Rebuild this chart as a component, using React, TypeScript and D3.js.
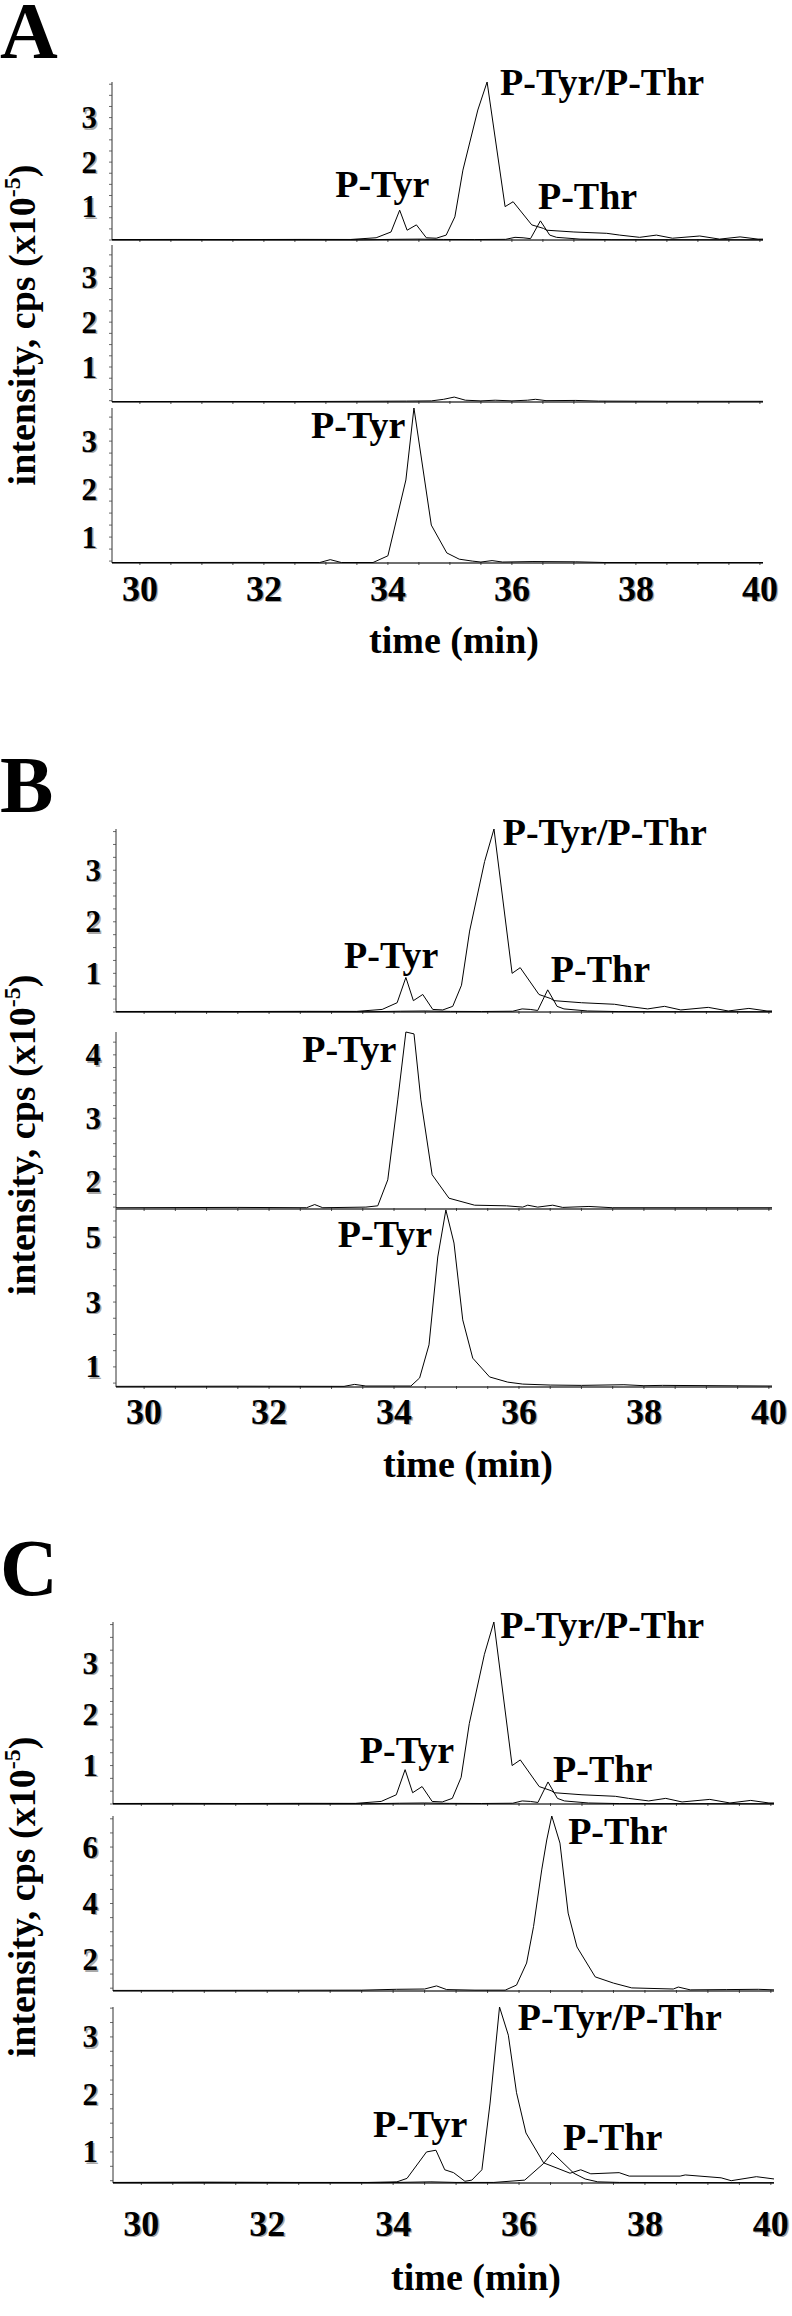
import React from 'react';
import * as d3 from 'd3';

type Pt = [number, number];
type Lbl = { text: string; t: number; v: number };

// time axis (min)
const timeDomain = [29.55, 40.05];
const timeTicks = [30, 32, 34, 36, 38, 40];

// standard mix (top strip of every panel), intensity in 1e5 cps
const mixTyr: Pt[] = [
  [29.55, 0.26], [30.6, 0.262], [31.6, 0.26], [32.6, 0.263], [33.4, 0.262], [33.81, 0.3],
  [34.05, 0.43], [34.19, 0.92], [34.31, 0.47], [34.46, 0.59], [34.62, 0.3], [34.78, 0.29],
  [34.94, 0.36], [35.08, 0.77], [35.21, 1.82], [35.45, 3.17], [35.6, 3.8], [35.89, 1.0],
  [36.02, 1.11], [36.32, 0.59], [36.51, 0.51], [36.56, 0.47], [37.0, 0.43], [37.53, 0.4],
  [37.74, 0.36], [38.06, 0.31], [38.33, 0.36], [38.59, 0.29], [39.03, 0.34], [39.35, 0.27],
  [39.68, 0.32], [39.97, 0.27], [40.05, 0.27],
];
const mixThr: Pt[] = [
  [29.55, 0.255], [33.6, 0.255], [34.1, 0.265], [34.5, 0.27], [34.9, 0.262], [35.4, 0.26],
  [35.9, 0.265], [36.05, 0.31], [36.18, 0.3], [36.3, 0.28], [36.46, 0.68], [36.61, 0.36],
  [36.72, 0.31], [37.1, 0.27], [37.6, 0.258], [40.05, 0.255],
];

const aMidTrace: Pt[] = [
  [29.55, 0.23], [31.0, 0.232], [32.5, 0.23], [33.5, 0.235], [34.3, 0.24], [34.7, 0.245],
  [34.9, 0.28], [35.07, 0.33], [35.25, 0.26], [35.5, 0.245], [35.73, 0.26], [36.0, 0.245],
  [36.25, 0.26], [36.38, 0.28], [36.55, 0.25], [37.03, 0.255], [37.4, 0.24], [38.5, 0.235],
  [40.05, 0.235],
];
const aBotTrace: Pt[] = [
  [29.55, 0.47], [31.5, 0.472], [32.9, 0.47], [33.07, 0.53], [33.25, 0.47], [33.76, 0.47],
  [34.0, 0.61], [34.29, 2.19], [34.42, 3.69], [34.7, 1.25], [34.95, 0.67], [35.15, 0.54],
  [35.36, 0.5], [35.5, 0.48], [35.68, 0.51], [35.85, 0.48], [36.34, 0.49], [37.03, 0.485],
  [37.5, 0.47], [40.05, 0.47],
];
const bMidTrace: Pt[] = [
  [29.55, 1.59], [31.5, 1.595], [32.6, 1.59], [32.73, 1.64], [32.86, 1.59], [33.55, 1.6],
  [33.74, 1.62], [33.9, 2.03], [34.06, 3.29], [34.19, 4.36], [34.32, 4.33], [34.43, 3.29],
  [34.61, 2.11], [34.88, 1.74], [35.29, 1.63], [35.8, 1.62], [36.06, 1.6], [36.14, 1.63],
  [36.3, 1.6], [36.54, 1.63], [36.7, 1.595], [37.12, 1.61], [37.5, 1.59], [40.05, 1.59],
];
const bBotTrace: Pt[] = [
  [29.55, 0.4], [31.5, 0.405], [33.2, 0.4], [33.37, 0.46], [33.55, 0.41], [34.27, 0.41],
  [34.41, 0.66], [34.56, 1.68], [34.7, 4.39], [34.83, 5.84], [34.96, 4.82], [35.1, 2.45],
  [35.26, 1.27], [35.53, 0.69], [35.82, 0.53], [36.06, 0.47], [36.5, 0.44], [37.0, 0.43],
  [37.68, 0.45], [38.0, 0.42], [38.3, 0.43], [40.05, 0.41],
];
const cMidTrace: Pt[] = [
  [29.55, 0.92], [32.0, 0.925], [33.5, 0.93], [34.05, 0.96], [34.5, 0.97], [34.69, 1.08],
  [34.85, 0.95], [35.3, 0.93], [35.78, 0.93], [35.96, 1.11], [36.12, 1.89], [36.23, 3.18],
  [36.36, 5.19], [36.44, 6.25], [36.52, 7.1], [36.65, 6.14], [36.78, 3.66], [36.92, 2.46],
  [37.21, 1.4], [37.5, 1.18], [37.79, 1.01], [38.45, 0.97], [38.53, 1.04], [38.72, 0.94],
  [39.3, 0.95], [39.8, 0.96], [40.05, 0.94],
];
const cBotTyr: Pt[] = [
  [29.55, 0.47], [31.0, 0.475], [32.5, 0.47], [33.6, 0.47], [34.06, 0.48], [34.22, 0.54],
  [34.53, 1.0], [34.68, 1.03], [34.82, 0.69], [34.96, 0.64], [35.14, 0.49], [35.25, 0.51],
  [35.41, 0.69], [35.54, 1.85], [35.69, 3.52], [35.83, 3.03], [35.96, 2.03], [36.11, 1.33],
  [36.39, 0.81], [36.81, 0.63], [36.98, 0.69], [37.14, 0.62], [37.59, 0.64], [37.75, 0.58],
  [38.56, 0.58], [38.64, 0.6], [39.21, 0.55], [39.37, 0.5], [39.77, 0.57], [40.05, 0.53],
];
const cBotThr: Pt[] = [
  [29.55, 0.465], [33.8, 0.465], [34.6, 0.48], [35.0, 0.47], [35.6, 0.47], [36.09, 0.51],
  [36.39, 0.8], [36.53, 0.99], [36.87, 0.63], [37.05, 0.53], [37.25, 0.48], [37.6, 0.47],
  [40.05, 0.465],
];

// y ranges and tick labels of each strip
const mixY = [0.25, 3.8];
const aMidY = [0.22, 3.72];
const aBotY = [0.46, 3.69];
const bMidY = [1.57, 4.36];
const bBotY = [0.38, 5.87];
const cMidY = [0.9, 7.1];
const cBotY = [0.46, 3.52];
const ticks123 = [1, 2, 3];
const ticks234 = [2, 3, 4];
const ticks135 = [1, 3, 5];
const ticks246 = [2, 4, 6];

// peak labels (left edge time, baseline intensity)
const aTopLabels: Lbl[] = [
  { text: 'P-Tyr', t: 33.15, v: 1.22 },
  { text: 'P-Tyr/P-Thr', t: 35.81, v: 3.51 },
  { text: 'P-Thr', t: 36.42, v: 0.95 },
];
const aBotLabels: Lbl[] = [{ text: 'P-Tyr', t: 32.76, v: 3.06 }];
const bTopLabels: Lbl[] = [
  { text: 'P-Tyr', t: 33.2, v: 1.1 },
  { text: 'P-Tyr/P-Thr', t: 35.74, v: 3.49 },
  { text: 'P-Thr', t: 36.51, v: 0.83 },
];
const bMidLabels: Lbl[] = [{ text: 'P-Tyr', t: 32.53, v: 3.89 }];
const bBotLabels: Lbl[] = [{ text: 'P-Tyr', t: 33.1, v: 4.7 }];
const cTopLabels: Lbl[] = [
  { text: 'P-Tyr', t: 33.47, v: 1.05 },
  { text: 'P-Tyr/P-Thr', t: 35.7, v: 3.49 },
  { text: 'P-Thr', t: 36.54, v: 0.68 },
];
const cMidLabels: Lbl[] = [{ text: 'P-Thr', t: 36.78, v: 6.11 }];
const cBotLabels: Lbl[] = [
  { text: 'P-Tyr', t: 33.68, v: 1.26 },
  { text: 'P-Tyr/P-Thr', t: 35.98, v: 3.12 },
  { text: 'P-Thr', t: 36.7, v: 1.03 },
];

type Strip = { top: number; base: number; domain: number[]; ticks: number[]; minor: number; series: Pt[][]; labels: Lbl[] };
type Panel = { letter: string; letterY: number; x0: number; x1: number; tickY: number; titleX: number; titleY: number; yTitleY: number; strips: Strip[] };

const panels: Panel[] = [
  {
    letter: 'A', letterY: 58, x0: 112, x1: 763, tickY: 601, titleX: 454, titleY: 653, yTitleY: 325,
    strips: [
      { top: 82, base: 240, domain: mixY, ticks: ticks123, minor: 0.25, series: [mixTyr, mixThr], labels: aTopLabels },
      { top: 245, base: 402, domain: aMidY, ticks: ticks123, minor: 0.25, series: [aMidTrace], labels: [] },
      { top: 408, base: 563, domain: aBotY, ticks: ticks123, minor: 0.25, series: [aBotTrace], labels: aBotLabels },
    ],
  },
  {
    letter: 'B', letterY: 812, x0: 116, x1: 772, tickY: 1424, titleX: 468, titleY: 1477, yTitleY: 1135,
    strips: [
      { top: 829, base: 1012, domain: mixY, ticks: ticks123, minor: 0.25, series: [mixTyr, mixThr], labels: bTopLabels },
      { top: 1032, base: 1209, domain: bMidY, ticks: ticks234, minor: 0.2, series: [bMidTrace], labels: bMidLabels },
      { top: 1209, base: 1387, domain: bBotY, ticks: ticks135, minor: 0.5, series: [bBotTrace], labels: bBotLabels },
    ],
  },
  {
    letter: 'C', letterY: 1595, x0: 113, x1: 774, tickY: 2236, titleX: 476, titleY: 2290, yTitleY: 1897,
    strips: [
      { top: 1622, base: 1804, domain: mixY, ticks: ticks123, minor: 0.25, series: [mixTyr, mixThr], labels: cTopLabels },
      { top: 1816, base: 1991, domain: cMidY, ticks: ticks246, minor: 0.5, series: [cMidTrace], labels: cMidLabels },
      { top: 2007, base: 2183, domain: cBotY, ticks: ticks123, minor: 0.25, series: [cBotTyr, cBotThr], labels: cBotLabels },
    ],
  },
];

const FONT = '"Liberation Serif", "Times New Roman", Times, serif';

const Shadowed = ({ x, y, size, anchor, children }: any) => (
  <g fontFamily={FONT} fontWeight="bold" fontSize={size} textAnchor={anchor}>
    <text x={x + 1.4} y={y + 1.4} fill="#a8a8a8">{children}</text>
    <text x={x} y={y} fill="#000">{children}</text>
  </g>
);

const StripView = ({ s, x }: { s: Strip; x: d3.ScaleLinear<number, number> }) => {
  const y = d3.scaleLinear().domain(s.domain).range([s.base, s.top]);
  const line = d3.line<Pt>().x(d => x(d[0])).y(d => y(d[1]));
  const [x0, x1] = x.range();
  const minors = d3.range(Math.ceil(s.domain[0] / s.minor) * s.minor, s.domain[1], s.minor);
  const xMinors = d3.range(30, 40.01, 0.5);
  return (
    <g>
      <line x1={x0} x2={x0} y1={s.top} y2={s.base} stroke="#333" strokeWidth={1} />
      {minors.map((v, i) => (
        <line key={i} x1={x0 - 3} x2={x0} y1={y(v)} y2={y(v)} stroke="#444" strokeWidth={0.8} />
      ))}
      <line x1={x0} x2={x1} y1={s.base} y2={s.base} stroke="#6f6f6f" strokeWidth={2} />
      {xMinors.map((t, i) => (
        <line key={i} x1={x(t)} x2={x(t)} y1={s.base - 1} y2={s.base + 2} stroke="#222" strokeWidth={0.8} />
      ))}
      {s.series.map((d, i) => (
        <path key={i} d={line(d) || ''} fill="none" stroke="#000" strokeWidth={1} strokeLinejoin="round" />
      ))}
      {s.ticks.map(v => (
        <Shadowed key={v} x={x0 - 15} y={y(v) + 10.5} size={31} anchor="end">{v}</Shadowed>
      ))}
      {s.labels.map((l, i) => (
        <text key={i} x={x(l.t)} y={y(l.v)} fontFamily={FONT} fontWeight="bold" fontSize={38}>{l.text}</text>
      ))}
    </g>
  );
};

const PanelView = ({ p }: { p: Panel }) => {
  const x = d3.scaleLinear().domain(timeDomain).range([p.x0, p.x1]);
  return (
    <g>
      <text x={0} y={p.letterY} fontFamily={FONT} fontWeight="bold" fontSize={80}>{p.letter}</text>
      {p.strips.map((s, i) => (
        <StripView key={i} s={s} x={x} />
      ))}
      {timeTicks.map(t => (
        <Shadowed key={t} x={x(t)} y={p.tickY} size={36} anchor="middle">{t}</Shadowed>
      ))}
      <text x={p.titleX} y={p.titleY} textAnchor="middle" fontFamily={FONT} fontWeight="bold" fontSize={38}>time (min)</text>
      <text transform={`translate(35,${p.yTitleY}) rotate(-90)`} textAnchor="middle" fontFamily={FONT} fontWeight="bold" fontSize={38}>
        intensity, cps (x10<tspan fontSize={24} dy={-15}>-5</tspan><tspan dy={15}>)</tspan>
      </text>
    </g>
  );
};

export default function App() {
  return (
    <svg width={792} height={2316} viewBox="0 0 792 2316"
      style={{ position: 'absolute', left: 0, top: 0, background: '#fff', display: 'block' }}>
      <rect width={792} height={2316} fill="#fff" />
      {panels.map(p => <PanelView key={p.letter} p={p} />)}
    </svg>
  );
}
